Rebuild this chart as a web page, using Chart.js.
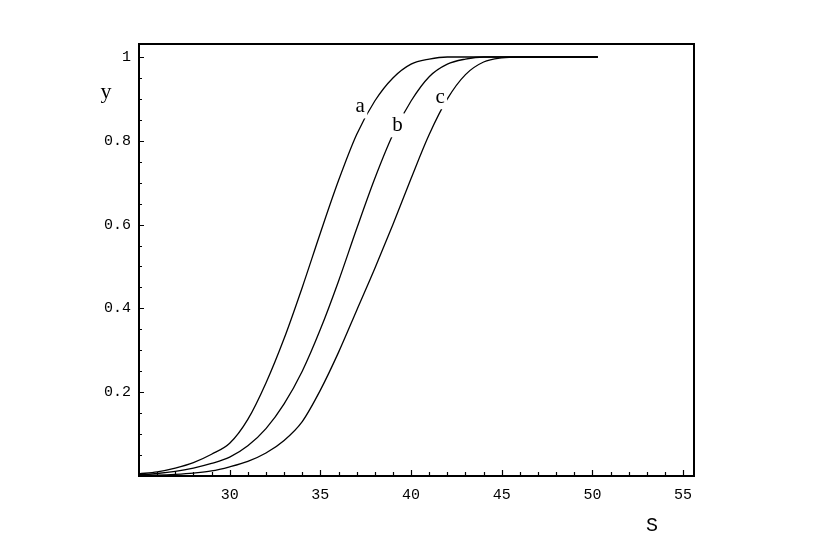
<!DOCTYPE html>
<html>
<head>
<meta charset="utf-8">
<script src="https://cdn.jsdelivr.net/npm/chart.js@4.4.1/dist/chart.umd.min.js"></script>
<style>
  html, body { margin: 0; padding: 0; background: #fff; }
  canvas { display: block; }
</style>
</head>
<body>
<canvas id="chart" width="830" height="554"></canvas>
<script>
// S values (x) and the three response curves a, b, c
const sValues = [25, 26, 27, 28, 29, 30, 31, 32, 33, 34, 35, 36, 37, 38, 39, 40, 41, 42, 43, 44, 45, 46, 47, 48, 49, 50.3];
const curveA = [0.005, 0.010, 0.019, 0.032, 0.052, 0.078, 0.135, 0.222, 0.328, 0.450, 0.580, 0.705, 0.815, 0.895, 0.950, 0.983, 0.995, 1.0, 1.0, 1.0, 1.0, 1.0, 1.0, 1.0, 1.0, 1.0];
const curveB = [0.003, 0.006, 0.011, 0.019, 0.030, 0.045, 0.072, 0.113, 0.172, 0.250, 0.350, 0.465, 0.590, 0.710, 0.815, 0.895, 0.953, 0.983, 0.995, 1.0, 1.0, 1.0, 1.0, 1.0, 1.0, 1.0];
const curveC = [0.001, 0.002, 0.004, 0.007, 0.012, 0.022, 0.035, 0.055, 0.085, 0.130, 0.205, 0.295, 0.395, 0.495, 0.600, 0.710, 0.815, 0.900, 0.958, 0.988, 0.998, 1.0, 1.0, 1.0, 1.0, 1.0];
const curveNames = ['a', 'b', 'c'];

// tick labels
const xTicks = [30, 35, 40, 45, 50, 55];
const yTicks = [0.2, 0.4, 0.6, 0.8, 1];

const toPoints = (ys) => sValues.map((s, i) => ({ x: s, y: ys[i] }));

// where the curve letters sit (data coords)
const labelAnchors = [
    { x: 37.2, y: 0.882 },
    { x: 39.25, y: 0.837 },
    { x: 41.6, y: 0.904 }
];

// frame, inward ticks, curve letters and axis names
const framePlugin = {
    id: 'frame',
    afterDatasetsDraw(chart) {
        const { ctx, chartArea: a, scales } = chart;
        const xs = scales.x, ys = scales.y;
        ctx.save();

        // curve letters, with a white patch that cuts the curve
        ctx.font = '21px "Liberation Serif"';
        ctx.textAlign = 'center';
        ctx.textBaseline = 'middle';
        curveNames.forEach((name, i) => {
            const px = xs.getPixelForValue(labelAnchors[i].x);
            const py = ys.getPixelForValue(labelAnchors[i].y);
            ctx.fillStyle = '#fff';
            ctx.fillRect(px - 7, py - 12, 14, 24);
            ctx.fillStyle = '#000';
            ctx.fillText(name, px, py);
        });

        // frame
        ctx.strokeStyle = '#000';
        ctx.lineWidth = 2;
        ctx.strokeRect(a.left, a.top, a.right - a.left, a.bottom - a.top);

        // x ticks (every 1, major every 5)
        ctx.lineWidth = 1.2;
        ctx.beginPath();
        for (let v = 26; v <= 55; v++) {
            const px = Math.round(xs.getPixelForValue(v)) + 0.5;
            const len = v % 5 === 0 ? 6 : 4;
            ctx.moveTo(px, a.bottom);
            ctx.lineTo(px, a.bottom - len);
        }
        // y ticks (every 0.05, major every 0.2)
        for (let k = 1; k <= 20; k++) {
            const py = Math.round(ys.getPixelForValue(k * 0.05)) + 0.5;
            const len = k % 4 === 0 ? 5 : 3;
            ctx.moveTo(a.left, py);
            ctx.lineTo(a.left + len, py);
        }
        ctx.stroke();

        // axis names
        ctx.fillStyle = '#000';
        ctx.font = '22px "Liberation Serif"';
        ctx.textAlign = 'center';
        ctx.textBaseline = 'middle';
        ctx.fillText('y', 106, 92);
        ctx.font = '20px "Liberation Mono"';
        ctx.fillText('S', 652, 526);
        ctx.restore();
    }
};

const lineStyle = {
    borderColor: '#000',
    borderWidth: 1.3,
    pointRadius: 0,
    fill: false,
    cubicInterpolationMode: 'monotone'
};

new Chart(document.getElementById('chart').getContext('2d'), {
    type: 'line',
    data: {
        datasets: [
            Object.assign({ label: 'a', data: toPoints(curveA) }, lineStyle),
            Object.assign({ label: 'b', data: toPoints(curveB) }, lineStyle),
            Object.assign({ label: 'c', data: toPoints(curveC) }, lineStyle)
        ]
    },
    options: {
        responsive: false,
        animation: false,
        layout: { padding: { top: 44, right: 136, left: 0, bottom: 0 } },
        plugins: {
            legend: { display: false },
            tooltip: { enabled: false }
        },
        scales: {
            x: {
                type: 'linear',
                min: 25,
                max: 55.6,
                grid: { display: false, drawTicks: false },
                border: { display: false },
                afterBuildTicks: (scale) => { scale.ticks = xTicks.map(v => ({ value: v })); },
                afterFit: (scale) => { scale.height = 78; },
                ticks: {
                    color: '#000',
                    padding: 10,
                    maxRotation: 0,
                    font: { family: '"Liberation Mono"', size: 15 },
                    callback: (v) => String(v)
                }
            },
            y: {
                type: 'linear',
                min: 0,
                max: 1.031,
                grid: { display: false, drawTicks: false },
                border: { display: false },
                afterBuildTicks: (scale) => { scale.ticks = yTicks.map(v => ({ value: v })); },
                afterFit: (scale) => { scale.width = 139; },
                ticks: {
                    color: '#000',
                    padding: 8,
                    font: { family: '"Liberation Mono"', size: 15 },
                    callback: (v) => String(v)
                }
            }
        }
    },
    plugins: [framePlugin]
});
</script>
</body>
</html>
